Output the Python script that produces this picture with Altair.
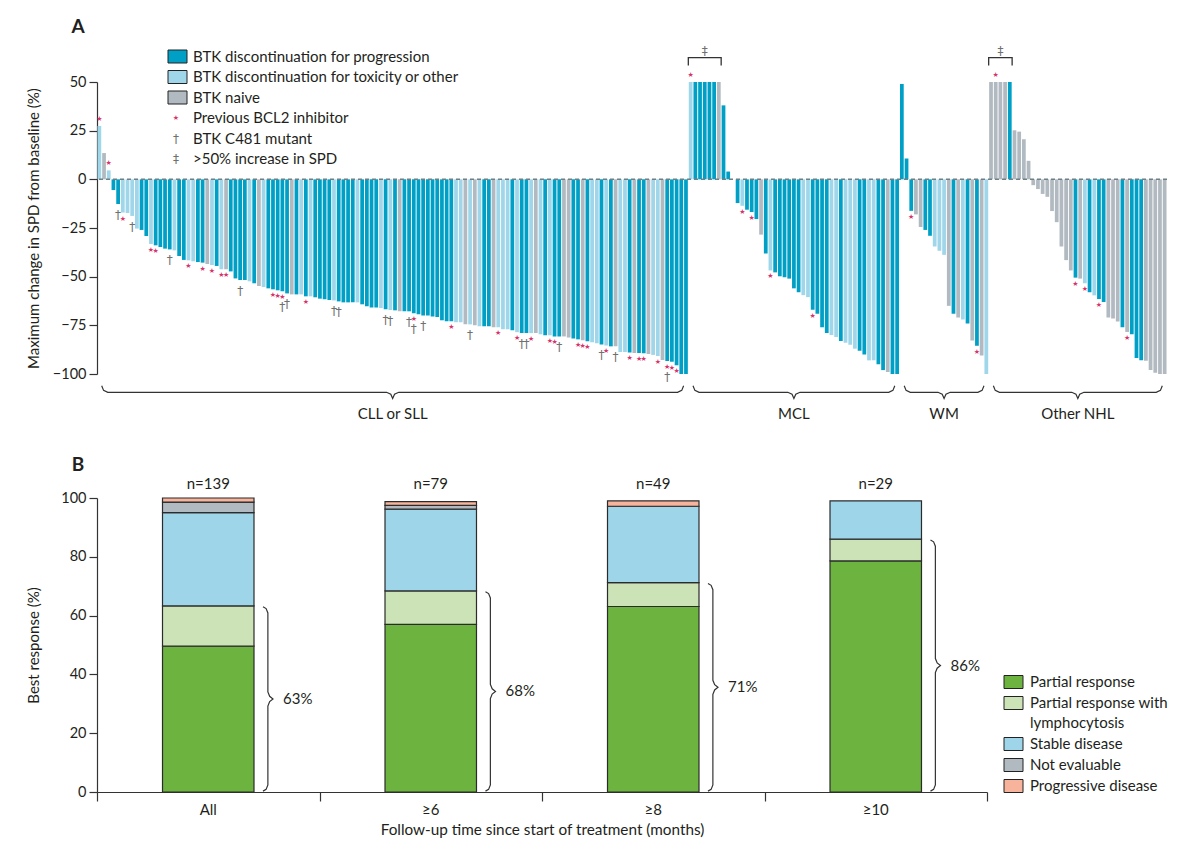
import altair as alt
import pandas as pd

# ---------------- Panel A data (waterfall) ----------------
groups = ["CLL or SLL", "MCL", "WM", "Other NHL"]
type_codes = ["P", "T", "N"]
type_labels = ["BTK discontinuation for progression",
               "BTK discontinuation for toxicity or other",
               "BTK naive"]
marker_labels = ["Previous BCL2 inhibitor", "BTK C481 mutant", ">50% increase in SPD"]

cll_values = [27.4, 13.5, 4.6, -5.5, -12.7, -17.1, -17.3, -18.8, -25.3, -26.0,
              -29.1, -33.2, -33.9, -34.8, -35.6, -36.0, -36.5, -39.4, -41.4, -41.6,
              -42.1, -42.5, -42.8, -43.5, -44.0, -44.5, -46.2, -46.2, -47.3, -50.9,
              -51.7, -51.7, -52.4, -53.4, -54.8, -55.3, -56.0, -56.5, -57.0, -57.5,
              -58.6, -59.1, -59.1, -59.1, -60.1, -60.1, -60.6, -61.3, -61.6, -62.0,
              -62.2, -62.7, -63.2, -63.2, -63.2, -63.2, -64.2, -65.2, -65.8, -65.8,
              -66.1, -66.8, -67.1, -67.3, -67.8, -67.8, -67.8, -68.8, -69.3, -69.9,
              -69.9, -70.4, -70.7, -72.4, -72.9, -72.9, -73.4, -73.4, -74.5, -74.5,
              -75.0, -75.5, -75.5, -75.5, -76.0, -76.0, -77.0, -77.0, -77.5, -78.5,
              -79.0, -79.0, -79.0, -79.0, -79.6, -80.1, -80.1, -80.7, -80.7, -80.7,
              -81.2, -81.7, -82.2, -82.7, -83.2, -83.7, -84.2, -84.8, -85.3, -85.8,
              -85.8, -88.7, -88.7, -88.9, -89.2, -89.2, -89.4, -89.7, -90.2, -90.8,
              -92.8, -93.3, -93.7, -95.5, -100.0, -100.0]
cll_types = list("TNTPPTTTTP" "PTPPPPTPPT" "TPPNTPTNPP" "PPTPNTPPPP" "PNPTPTPPPP"
                 "TPPPPTPPPP" "TPTPNPPPPP" "PPPPPPTTNT" "NTPPNTTTPT" "PPTNTPTPPN"
                 "NPPNPTTPTP" "NTTPNPPNTT" "NPPPPP")
cll_marks = {1: "*", 3: "*", 5: "†", 6: "*", 8: "†", 12: "*", 13: "*", 16: "†", 20: "*",
             23: "*", 25: "*", 27: "*", 28: "*", 31: "†", 38: "*", 39: "*", 40: "*†",
             41: "†", 45: "*", 51: "†", 52: "†", 62: "†", 63: "†", 67: "†", 68: "*†",
             70: "†", 76: "*", 80: "†", 86: "*", 90: "*", 91: "†", 92: "†", 93: "*",
             97: "*", 98: "*", 99: "†", 103: "*", 104: "*", 105: "*", 108: "†", 109: "*",
             111: "†", 114: "*", 116: "*", 117: "*", 120: "*", 122: "*†", 123: "*", 124: "*"}

mcl_values = [50, 50, 50, 50, 50, 50, 50, 38, 4, 0,
              -12.2, -13.6, -15.6, -16.8, -20.4, -28.4, -38.1, -46.8, -47.8, -49.8,
              -50.3, -51, -56, -58, -59.5, -60.5, -67, -69, -76, -79,
              -80, -81, -83, -84, -85, -87, -88, -90, -93, -93,
              -95, -98, -99, -100, -100]
mcl_types = list("TPPPPPN" "PPP" "PTPPP" "NPTPP" "PPPPT" "TPPPP" "TTPTT" "TPPTT" "PPNPP")
mcl_marks = {1: "*", 12: "*", 14: "*", 18: "*", 27: "*"}

wm_values = [49, 10.7, -16.2, -18, -24.5, -26, -29, -34.5, -36.7, -38.8,
             -65, -69, -71, -72, -74, -82.8, -85.5, -90.5, -100]
wm_types = list("PPPNNPPTTTNPNTPNPNT")
wm_marks = {3: "*", 17: "*"}

nhl_values = [50, 50, 50, 50, 50, 25.2, 24.5, 20.6, 9.5,
              -3, -5, -7.5, -9, -16.3, -22, -34.5, -41.5, -46.8, -50.5,
              -51, -53.4, -58, -59.6, -61.5, -63, -71, -71.5, -73, -76,
              -78.4, -79.6, -91.8, -92.9, -93.2, -98, -99.3, -100, -100]
nhl_types = list("NNNNP" "NNNN" "NNNNN" "NNNNP" "NTPTP" "PNNNP" "NPPPN" "NNNN")
nhl_marks = {2: "*", 19: "*", 21: "*", 24: "*", 30: "*"}

# bars (1-based, within group) bracketed as >50% increase in SPD
spd_increase = {"MCL": (1, 7), "Other NHL": (1, 5)}

# ---------------- Panel B data (stacked best response) ----------------
cats = ["All", "≥6", "≥8", "≥10"]
n_text = ["n=139", "n=79", "n=49", "n=29"]
resp_names = ["Partial response", "Partial response with lymphocytosis",
              "Stable disease", "Not evaluable", "Progressive disease"]
pr = [49.6, 57.0, 63.1, 78.6]
prl = [13.7, 11.4, 8.1, 7.4]
sd = [31.7, 27.8, 26.0, 13.0]
ne = [3.6, 1.3, 0.0, 0.0]
prog = [1.4, 1.3, 1.8, 0.0]
pct_labels = ["63%", "68%", "71%", "86%"]

# ---------------- styles ----------------
FONT = "Lato"
FS = 15
TXT = "#231F20"
AX = "#333333"
C_P, C_T, C_N = "#00A0C6", "#A0D6E9", "#B2BAC1"
STAR = "#D6336C"
DAG = "#707070"
resp_colors = ["#6CB33F", "#CCE3B8", "#9ED5E8", "#B2BAC1", "#F7B39B"]
W_A, H_A = 1070, 292
W_B, H_B = 890, 294

# ---------------- build panel A tables ----------------
rows, mrows, grp_ranges, brk_rows = [], [], [], []
gi = 0
for g, vals, typs, marks in zip(groups,
                                [cll_values, mcl_values, wm_values, nhl_values],
                                [cll_types, mcl_types, wm_types, nhl_types],
                                [cll_marks, mcl_marks, wm_marks, nhl_marks]):
    start = gi
    for k, (v, t) in enumerate(zip(vals, typs)):
        rows.append({"x": gi, "v": v, "type": t, "group": g})
        m = marks.get(k + 1, "")
        if "*" in m:
            mrows.append({"x": gi, "v": v, "kind": "sp" if v >= 0 else "sn"})
        if "†" in m:
            mrows.append({"x": gi, "v": v, "kind": "d2" if "*" in m else "d1"})
        gi += 1
    grp_ranges.append((g, start, gi - 1))
    if g in spd_increase:
        a, b = spd_increase[g]
        x0, x1 = start + a - 1 - 0.5, start + b - 1 + 0.5
        for o, (xx, yy) in enumerate([(x0, 58.5), (x0, 62.5), (x1, 62.5), (x1, 58.5)]):
            brk_rows.append({"g": g, "o": o, "x": xx, "v": yy, "xm": (x0 + x1) / 2})
N = gi
dfA = pd.DataFrame(rows)
dfM = pd.DataFrame(mrows)
dfBrk = pd.DataFrame(brk_rows)

brace_rows, glabel_rows = [], []
for g, s, e in grp_ranges:
    f, l = s + 0.5, e - 0.5
    m = (s + e) / 2
    pts = [(f, -106.0), (f + 0.4, -108.4), (f + 1.3, -109.4), (m - 1.3, -109.4),
           (m - 0.4, -110.4), (m, -112.6), (m + 0.4, -110.4), (m + 1.3, -109.4),
           (l - 1.3, -109.4), (l - 0.4, -108.4), (l, -106.0)]
    for o, (xx, yy) in enumerate(pts):
        brace_rows.append({"g": g, "o": o, "x": xx, "v": yy})
    glabel_rows.append({"g": g, "x": m, "v": -109.4})
dfBrace = pd.DataFrame(brace_rows)
dfGl = pd.DataFrame(glabel_rows)

xsA = alt.Scale(domain=[-0.5, N - 0.5], nice=False, zero=False)
ysA = alt.Scale(domain=[-100, 50], nice=False, zero=False)
one = pd.DataFrame({"k": [0]})


def ptext(txt, x, y, size=FS, color=TXT, align="left", weight="normal", font=FONT):
    return alt.Chart(one).mark_text(text=txt, align=align, baseline="middle", fontSize=size,
                                    color=color, fontWeight=weight, font=font).encode(
        x=alt.value(x), y=alt.value(y))


def prect(x1, y1, x2, y2, fill):
    return alt.Chart(one).mark_rect(fill=fill, stroke="#222222", strokeWidth=1).encode(
        x=alt.value(x1), x2=alt.value(x2), y=alt.value(y1), y2=alt.value(y2))


yaxis_common = dict(labelFontSize=14.5, labelColor=TXT, labelFont=FONT, tickColor=AX,
                    domainColor=AX, tickSize=8, labelPadding=3, titleFontSize=15,
                    titleFont=FONT, titleColor=TXT, titleFontWeight="normal",
                    minExtent=45, maxExtent=45, titlePadding=11, grid=False,
                    domainWidth=1.2, tickWidth=1.2)
yaxisA = alt.Axis(values=[-100, -75, -50, -25, 0, 25, 50],
                  title="Maximum change in SPD from baseline (%)", **yaxis_common)


def XA(f):
    return alt.X(f, scale=xsA, axis=None)


def YA(f):
    return alt.Y(f, scale=ysA, axis=yaxisA)


barsA = alt.Chart(dfA).transform_calculate(
    x0="datum.x - 0.4", x1="datum.x + 0.4", z="0").mark_bar().encode(
    x=XA("x0:Q"),
    x2="x1:Q",
    y=YA("v:Q"),
    y2="z:Q",
    color=alt.Color("type:N", scale=alt.Scale(domain=type_codes, range=[C_P, C_T, C_N]),
                    legend=None),
)

zero_rule = alt.Chart(pd.DataFrame({"v": [0]})).mark_rule(
    color="#6F7F86", strokeDash=[4, 3], strokeWidth=1.5).encode(y=YA("v:Q"))


def marker_layer(kind, glyph, dy, size, color, font):
    return alt.Chart(dfM).transform_filter(alt.datum.kind == kind).mark_text(
        text=glyph, dy=dy, fontSize=size, color=color, font=font, baseline="middle").encode(
        x=XA("x:Q"), y=YA("v:Q"))


m_sn = marker_layer("sn", "★", 6, 7, STAR, "DejaVu Sans")
m_sp = marker_layer("sp", "★", -7, 7, STAR, "DejaVu Sans")
m_d1 = marker_layer("d1", "†", 11, 12, DAG, "DejaVu Sans")
m_d2 = marker_layer("d2", "†", 16, 12, DAG, "DejaVu Sans")

brackets = alt.Chart(dfBrk).mark_line(color=AX, strokeWidth=1.3).encode(
    x=XA("x:Q"), y=YA("v:Q"), detail="g:N", order="o:Q")
dd = alt.Chart(dfBrk).transform_filter(alt.datum.o == 0).mark_text(
    text="‡", fontSize=12, color=DAG, font="DejaVu Sans", baseline="middle", dy=-14).encode(
    x=XA("xm:Q"), y=YA("v:Q"))

braces = alt.Chart(dfBrace).mark_line(color=AX, strokeWidth=1.2).encode(
    x=XA("x:Q"), y=YA("v:Q"), detail="g:N", order="o:Q")
glabels = alt.Chart(dfGl).mark_text(fontSize=FS, color=TXT, font=FONT, baseline="middle",
                                    dy=22).encode(x=XA("x:Q"), y=YA("v:Q"), text="g:N")

legA = []
rowsA = [-25.5, -5, 15.5, 36, 56.5, 77]
for r, (code, lab) in enumerate(zip(type_codes, type_labels)):
    fill = {"P": C_P, "T": C_T, "N": C_N}[code]
    legA.append(prect(71, rowsA[r] - 6.5, 90, rowsA[r] + 6.5, fill))
    legA.append(ptext(lab, 96, rowsA[r]))
for r, (glyph, col, sz) in enumerate([("★", STAR, 7), ("†", DAG, 12), ("‡", DAG, 12)]):
    legA.append(ptext(glyph, 79, rowsA[3 + r], size=sz, color=col, align="center",
                      font="DejaVu Sans"))
    legA.append(ptext(marker_labels[r], 96, rowsA[3 + r]))

labelA = ptext("A", -19, -55, size=19, weight="bold", align="center")

panelA = alt.layer(barsA, zero_rule, m_sn, m_sp, m_d1, m_d2, brackets, dd, braces, glabels,
                   *legA, labelA).properties(width=W_A, height=H_A)

# ---------------- build panel B tables ----------------
rowsB, braceB, pctB, catB = [], [], [], []
for i, c in enumerate(cats):
    base = 0.0
    for r, (name, arr) in enumerate(zip(resp_names, [pr, prl, sd, ne, prog])):
        val = arr[i]
        if val > 0:
            rowsB.append({"ci": i, "resp": name, "ri": r, "y0": base, "y1": base + val})
        base += val
    top = pr[i] + prl[i]
    mid = top / 2
    xb, xs, xp = i + 0.746, i + 0.768, i + 0.791
    pts = [(xb, 0.3), (xs - 0.008, 0.9), (xs, 2.4), (xs, mid - 2.4), (xs + 0.008, mid - 0.9),
           (xp, mid), (xs + 0.008, mid + 0.9), (xs, mid + 2.4), (xs, top - 2.4),
           (xs - 0.008, top - 0.9), (xb, top - 0.3)]
    for o, (xx, yy) in enumerate(pts):
        braceB.append({"ci": i, "o": o, "x": xx, "v": yy})
    pctB.append({"x": i + 0.836, "v": mid, "t": pct_labels[i]})
    catB.append({"x": i + 0.5, "t": c, "n": n_text[i]})
dfB = pd.DataFrame(rowsB)
dfBraceB = pd.DataFrame(braceB)
dfPct = pd.DataFrame(pctB)
dfCat = pd.DataFrame(catB)

xsB = alt.Scale(domain=[0, 4], nice=False, zero=False)
ysB = alt.Scale(domain=[0, 100], nice=False)
xaxisB = alt.Axis(values=[0, 1, 2, 3, 4], labels=False, tickSize=9, tickColor=AX,
                  domainColor=AX, domainWidth=1.2, tickWidth=1.2, grid=False,
                  title="Follow-up time since start of treatment (months)",
                  titleFontSize=15.3, titleFont=FONT, titleColor=TXT,
                  titleFontWeight="normal", titlePadding=21)
yaxisB = alt.Axis(values=[0, 20, 40, 60, 80, 100], title="Best response (%)", **yaxis_common)


def XB(f):
    return alt.X(f, scale=xsB, axis=xaxisB)


def YB(f):
    return alt.Y(f, scale=ysB, axis=yaxisB)


barsB = alt.Chart(dfB).transform_calculate(
    xl="datum.ci + 0.5 - 0.2056", xr="datum.ci + 0.5 + 0.2056").mark_bar(
    stroke="#2B2B2B", strokeWidth=1.2).encode(
    x=XB("xl:Q"),
    x2="xr:Q",
    y=YB("y1:Q"),
    y2="y0:Q",
    color=alt.Color("resp:N", scale=alt.Scale(domain=resp_names, range=resp_colors),
                    legend=None),
)

bracesB = alt.Chart(dfBraceB).mark_line(color=AX, strokeWidth=1.2).encode(
    x=XB("x:Q"), y=YB("v:Q"), detail="ci:N", order="o:Q")
pctText = alt.Chart(dfPct).mark_text(align="left", baseline="middle", fontSize=FS,
                                     color=TXT, font=FONT).encode(
    x=XB("x:Q"), y=YB("v:Q"), text="t:N")
nText = alt.Chart(dfCat).mark_text(baseline="middle", fontSize=FS, color=TXT,
                                   font=FONT).encode(
    x=XB("x:Q"), y=alt.value(-14), text="n:N")
catText = alt.Chart(dfCat).mark_text(baseline="middle", fontSize=FS, color=TXT,
                                     font=FONT).encode(
    x=XB("x:Q"), y=alt.value(H_B + 18), text="t:N")

legB = []
rowsBy = [184, 205, 246, 267, 288]
for r, (name, col) in enumerate(zip(resp_names, resp_colors)):
    y = rowsBy[r]
    legB.append(prect(907, y - 6.5, 926, y + 6.5, col))
    if name == "Partial response with lymphocytosis":
        legB.append(ptext("Partial response with", 933, y))
        legB.append(ptext("lymphocytosis", 933, y + 20))
    else:
        legB.append(ptext(name, 933, y))

labelB = ptext("B", -19, -33, size=19, weight="bold", align="center")

panelB = alt.layer(barsB, bracesB, pctText, nText, catText, *legB, labelB).properties(
    width=W_B, height=H_B)

chart = alt.vconcat(panelA, panelB, spacing=33).resolve_scale(
    color="independent", x="independent", y="independent"
).properties(
    padding={"left": 18, "top": 10, "right": 5, "bottom": 5}
).configure(font=FONT).configure_view(stroke=None)

chart.save("out.html", embed_options={"renderer": "svg", "actions": False})
